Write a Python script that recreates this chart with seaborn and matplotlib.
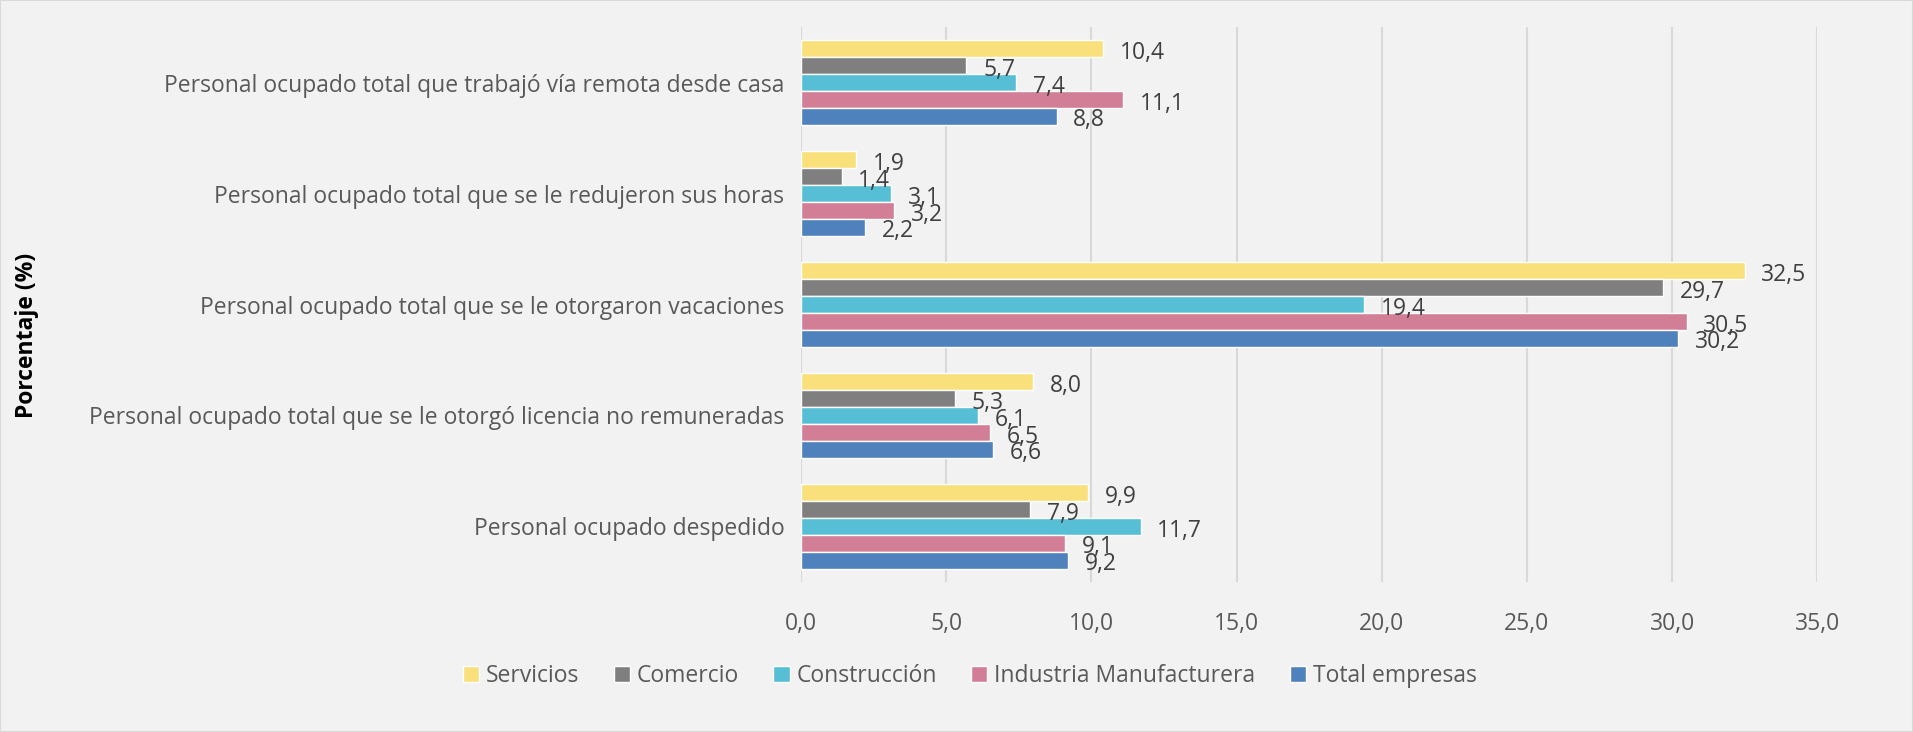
import pandas as pd
import matplotlib.pyplot as plt
import matplotlib.ticker as mticker
import seaborn as sns

# --- datos ---
categorias = [
    'Personal ocupado total que trabajó vía remota desde casa',
    'Personal ocupado total que se le redujeron sus horas',
    'Personal ocupado total que se le otorgaron vacaciones',
    'Personal ocupado total que se le otorgó licencia no remuneradas',
    'Personal ocupado despedido',
]
sectores = ['Servicios', 'Comercio', 'Construcción', 'Industria Manufacturera', 'Total empresas']
servicios = [10.4, 1.9, 32.5, 8.0, 9.9]
comercio = [5.7, 1.4, 29.7, 5.3, 7.9]
construccion = [7.4, 3.1, 19.4, 6.1, 11.7]
industria = [11.1, 3.2, 30.5, 6.5, 9.1]
total = [8.8, 2.2, 30.2, 6.6, 9.2]
colores = ['#F9E07A', '#7F7F7F', '#56BFD6', '#D27E97', '#4F81BD']

valores = [servicios, comercio, construccion, industria, total]
df = pd.DataFrame([
    {'Categoria': c, 'Sector': s, 'Valor': v}
    for s, vals in zip(sectores, valores)
    for c, v in zip(categorias, vals)
])

sns.set_style('white')
plt.rcParams['font.family'] = ['Open Sans', 'DejaVu Sans']

fig = plt.figure(figsize=(19.13, 7.32), dpi=100, facecolor='#F2F2F2')
ax = fig.add_axes([0.4187, 0.205, 0.5313, 0.758])
ax.set_facecolor('#F2F2F2')

sns.barplot(data=df, x='Valor', y='Categoria', hue='Sector', order=categorias,
            hue_order=sectores, palette=colores, orient='h', width=0.76,
            saturation=1, errorbar=None, ax=ax, zorder=3)

# etiquetas de valores (en el original también se solapan)
for cont in ax.containers:
    for bar in cont:
        v = bar.get_width()
        ax.annotate(f'{v:.1f}'.replace('.', ','),
                    (v, bar.get_y() + bar.get_height() / 2),
                    xytext=(12, -3), textcoords='offset points',
                    ha='left', va='center', fontsize=16.5, color='#404040')

ax.set_xlim(0, 35)
ax.xaxis.set_major_locator(mticker.MultipleLocator(5))
ax.xaxis.set_major_formatter(mticker.FuncFormatter(lambda x, p: f'{x:.1f}'.replace('.', ',')))
ax.grid(axis='x', color='#D9D9D9', linewidth=1.5, zorder=0)
ax.set_axisbelow(True)
for s in ax.spines.values():
    s.set_visible(False)
ax.axvline(0, color='#D9D9D9', linewidth=1.5, zorder=1)
ax.tick_params(axis='x', labelsize=16.5, labelcolor='#595959', length=0, pad=22)
ax.tick_params(axis='y', labelsize=16.5, labelcolor='#595959', length=0, pad=12)
ax.set_xlabel('')
ax.set_ylabel('')
fig.text(0.014, 0.542, 'Porcentaje (%)', rotation=90, ha='center', va='center',
         fontsize=16.5, fontweight='bold', color='#000000')

ax.legend(loc='center', bbox_to_anchor=(0.507, 0.077), bbox_transform=fig.transFigure,
          ncol=5, frameon=False, fontsize=16.5, labelcolor='#595959',
          handlelength=0.7, handleheight=0.7, handletextpad=0.3, columnspacing=1.5)

fig.patches.append(plt.Rectangle((0, 0), 1, 1, transform=fig.transFigure, fill=False,
                                 edgecolor='#D9D9D9', linewidth=1.5))

plt.savefig('out.png', dpi=100, facecolor=fig.get_facecolor())
